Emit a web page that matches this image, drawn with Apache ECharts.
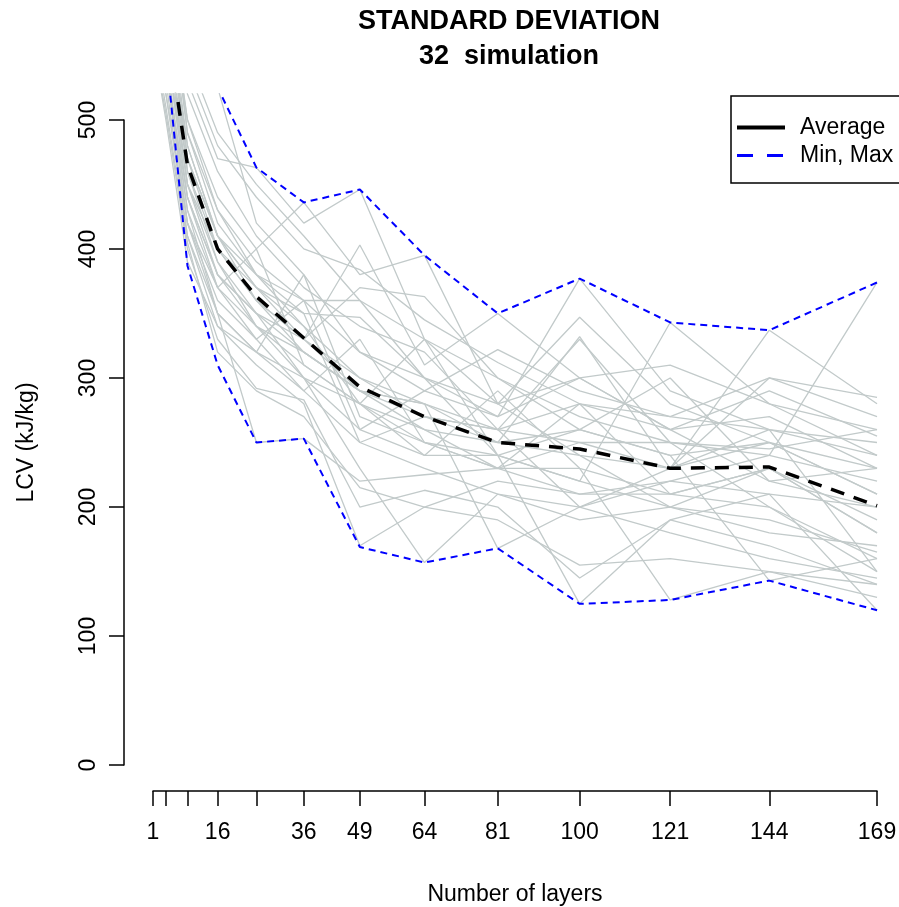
<!DOCTYPE html>
<html>
<head>
<meta charset="utf-8">
<script src="https://cdn.jsdelivr.net/npm/echarts@6/dist/echarts.min.js"></script>
<style>
html,body{margin:0;padding:0;background:#fff;}
#chart{width:899px;height:907px;}
</style>
</head>
<body>
<div id="chart"></div>
<script>
// x positions: number of layers
const layers = [1, 4, 9, 16, 25, 36, 49, 64, 81, 100, 121, 144, 169];
const tickValues = [1, 4, 9, 16, 25, 36, 49, 64, 81, 100, 121, 144, 169];
const labelValues = [1, 16, 36, 49, 64, 81, 100, 121, 144, 169];
const yTicks = [0, 100, 200, 300, 400, 500];

// summary lines
const averageValues = [680, 577, 465, 400, 363, 331, 293, 270, 250, 245, 230, 231, 201];
const minValues = [620, 553, 387, 310, 250, 253, 169, 157, 168, 125, 128, 143, 120];
const maxValues = [800, 720, 620, 525, 463, 436, 446, 395, 350, 377, 343, 337, 374];

// 32 simulations (estimated)
const sim1  = [720, 640, 530, 470, 463, 420, 446, 330, 300, 260, 240, 250, 210];
const sim2  = [690, 610, 500, 440, 400, 436, 380, 395, 280, 240, 200, 230, 180];
const sim3  = [650, 590, 480, 410, 370, 330, 403, 310, 350, 300, 260, 220, 230];
const sim4  = [600, 540, 440, 380, 350, 300, 260, 290, 270, 377, 290, 260, 250];
const sim5  = [760, 680, 560, 525, 420, 380, 320, 300, 240, 220, 343, 280, 260];
const sim6  = [630, 560, 450, 390, 340, 310, 280, 250, 230, 250, 230, 337, 280];
const sim7  = [580, 520, 420, 360, 330, 290, 250, 230, 210, 200, 220, 240, 374];
const sim8  = [700, 620, 500, 430, 380, 350, 250, 270, 260, 330, 250, 200, 160];
const sim9  = [560, 505, 400, 330, 292, 283, 200, 213, 200, 145, 190, 170, 140];
const sim10 = [670, 600, 470, 400, 360, 320, 290, 260, 250, 240, 230, 300, 270];
const sim11 = [610, 550, 430, 350, 250, 253, 220, 225, 230, 210, 210, 200, 150];
const sim12 = [740, 650, 520, 460, 410, 370, 340, 320, 260, 280, 270, 260, 240];
const sim13 = [590, 530, 410, 340, 310, 280, 170, 200, 190, 155, 160, 150, 130];
const sim14 = [680, 600, 460, 390, 350, 330, 370, 363, 300, 270, 250, 240, 220];
const sim15 = [620, 560, 440, 370, 340, 320, 290, 280, 168, 200, 180, 160, 145];
const sim16 = [710, 630, 490, 420, 380, 340, 280, 240, 240, 125, 190, 210, 200];
const sim17 = [650, 580, 450, 380, 340, 300, 230, 157, 210, 190, 200, 180, 170];
const sim18 = [600, 540, 420, 350, 320, 300, 280, 260, 230, 230, 128, 150, 140];
const sim19 = [730, 660, 540, 480, 440, 400, 384, 345, 312, 280, 260, 290, 255];
const sim20 = [640, 570, 450, 400, 370, 340, 300, 280, 250, 260, 240, 143, 160];
const sim21 = [570, 510, 405, 320, 290, 270, 215, 200, 220, 210, 220, 210, 120];
const sim22 = [690, 610, 480, 410, 370, 350, 347, 300, 280, 347, 280, 250, 230];
const sim23 = [620, 560, 440, 380, 350, 320, 290, 270, 260, 250, 250, 245, 260];
const sim24 = [660, 590, 470, 410, 380, 360, 320, 290, 322, 290, 270, 300, 285];
const sim25 = [700, 620, 490, 430, 390, 360, 360, 300, 270, 300, 260, 270, 230];
const sim26 = [610, 540, 420, 370, 330, 360, 260, 240, 290, 230, 210, 230, 190];
const sim27 = [580, 520, 410, 350, 320, 290, 330, 250, 240, 260, 300, 220, 200];
const sim28 = [750, 670, 550, 490, 450, 410, 360, 330, 280, 300, 310, 280, 240];
const sim29 = [640, 580, 460, 400, 360, 330, 300, 270, 250, 332, 230, 250, 210];
const sim30 = [600, 540, 430, 370, 400, 310, 280, 330, 240, 220, 200, 190, 165];
const sim31 = [670, 600, 470, 410, 360, 330, 290, 280, 260, 200, 230, 260, 150];
const sim32 = [560, 500, 390, 340, 320, 380, 270, 250, 230, 280, 210, 230, 180];

const sims = [sim1, sim2, sim3, sim4, sim5, sim6, sim7, sim8, sim9, sim10, sim11, sim12,
  sim13, sim14, sim15, sim16, sim17, sim18, sim19, sim20, sim21, sim22, sim23, sim24,
  sim25, sim26, sim27, sim28, sim29, sim30, sim31, sim32];

const FONT = "'Liberation Sans', Arial, sans-serif";
const pair = arr => arr.map((v, i) => [layers[i], v]);

const series = [];
sims.forEach((s, i) => {
  series.push({
    type: 'line', name: 'sim' + (i + 1), data: pair(s),
    xAxisIndex: 0, yAxisIndex: 0, symbol: 'none', clip: true,
    lineStyle: { color: '#C2CACA', width: 1.3 }, silent: true, z: 2
  });
});
series.push({
  type: 'line', name: 'Average', data: pair(averageValues),
  xAxisIndex: 0, yAxisIndex: 0, symbol: 'none', clip: true,
  itemStyle: { color: '#000' },
  lineStyle: { color: '#000', width: 3.5, type: [14, 10] }, z: 4
});
series.push({
  type: 'line', name: 'Min, Max', data: pair(minValues),
  xAxisIndex: 0, yAxisIndex: 0, symbol: 'none', clip: true,
  itemStyle: { color: '#0000FF' },
  lineStyle: { color: '#0000FF', width: 2, type: [7, 5] }, z: 3
});
series.push({
  type: 'line', name: 'Min, Max', data: pair(maxValues),
  xAxisIndex: 0, yAxisIndex: 0, symbol: 'none', clip: true,
  itemStyle: { color: '#0000FF' },
  lineStyle: { color: '#0000FF', width: 2, type: [7, 5] }, z: 3
});

const chart = echarts.init(document.getElementById('chart'), null, { renderer: 'canvas' });
chart.setOption({
  animation: false,
  backgroundColor: '#fff',
  title: {
    text: 'STANDARD DEVIATION\n32  simulation',
    left: 504, top: -1, textAlign: 'center',
    textStyle: { fontFamily: FONT, fontSize: 27, fontWeight: 'bold', color: '#000', lineHeight: 35 }
  },
  legend: {
    data: [
      { name: 'Average', itemStyle: { opacity: 0 }, lineStyle: { type: 'solid', width: 4, color: '#000' } },
      { name: 'Min, Max', itemStyle: { opacity: 0 }, lineStyle: { type: [16, 14], width: 3, color: '#0000FF' } }
    ],
    orient: 'vertical', left: 731, top: 96,
    itemWidth: 48, itemHeight: 14, itemGap: 5,
    padding: [20, 30, 16, 4],
    borderColor: '#000', borderWidth: 1.5,
    selectedMode: false,
    itemStyle: { opacity: 0 },
    textStyle: { fontFamily: FONT, fontSize: 23, color: '#000', lineHeight: 20, padding: [0, 0, 0, 10] }
  },
  grid: [
    { left: 124, top: 94, width: 782, height: 697, outerBoundsMode: 'none', containLabel: false },
    { left: 153, top: 120, width: 724, height: 645, outerBoundsMode: 'none', containLabel: false }
  ],
  xAxis: [
    { gridIndex: 0, type: 'value', min: -5.72, max: 175.72, show: false },
    {
      gridIndex: 1, type: 'value', min: 1, max: 169, offset: 26,
      name: 'Number of layers', nameLocation: 'middle', nameGap: 92,
      nameTextStyle: { fontFamily: FONT, fontSize: 23, color: '#000' },
      axisLine: { show: true, onZero: false, lineStyle: { color: '#000', width: 1.5 } },
      axisTick: { show: true, length: 15, customValues: tickValues, lineStyle: { color: '#000', width: 1.5 } },
      axisLabel: { customValues: labelValues, margin: 30, fontFamily: FONT, fontSize: 23, color: '#000' },
      splitLine: { show: false }
    }
  ],
  yAxis: [
    { gridIndex: 0, type: 'value', min: -20, max: 520, show: false },
    {
      gridIndex: 1, type: 'value', min: 0, max: 500, interval: 100, offset: 29,
      name: 'LCV (kJ/kg)', nameLocation: 'middle', nameGap: 86, nameRotate: 90,
      nameTextStyle: { fontFamily: FONT, fontSize: 23, color: '#000' },
      axisLine: { show: true, onZero: false, lineStyle: { color: '#000', width: 1.5 } },
      axisTick: { show: true, length: 15, customValues: yTicks, lineStyle: { color: '#000', width: 1.5 } },
      axisLabel: { rotate: 90, margin: 24, fontFamily: FONT, fontSize: 23, color: '#000' },
      splitLine: { show: false }
    }
  ],
  series: series
});
</script>
</body>
</html>
